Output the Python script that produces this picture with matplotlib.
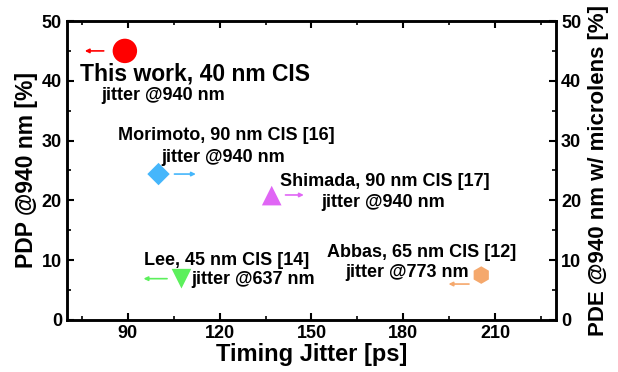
import numpy as np
import matplotlib
matplotlib.use('Agg')
import matplotlib.pyplot as plt
from matplotlib.ticker import MultipleLocator

plt.rcParams['font.family'] = ['Liberation Sans', 'DejaVu Sans']
plt.rcParams['font.weight'] = 'bold'

# jitter [ps], PDP [%]
names = ['This work', 'Morimoto', 'Shimada', 'Lee', 'Abbas']
jitter = [89, 100, 137, 107.5, 205.5]
pdp = [45, 24.4, 20.8, 6.9, 7.5]
markers = ['o', 'D', '^', 'v', 'h']
colors = ['#ff0000', '#45b6fb', '#e066f5', '#5cf05c', '#f5a86c']
sizes = [310, 130, 200, 200, 160]

# arrows: start x, end x, y
arrow_x0 = [83, 104.3, 140.6, 103.7, 202.4]
arrow_x1 = [75, 113.1, 148.4, 94.2, 193.9]
arrow_y = [45, 24.4, 20.9, 6.9, 6.0]

fig, ax = plt.subplots(figsize=(6.18, 3.72), dpi=100)
fig.subplots_adjust(left=0.108, right=0.9, bottom=0.14, top=0.9435)

for x, y, m, c, s in zip(jitter, pdp, markers, colors, sizes):
    ax.scatter(x, y, marker=m, s=s, color=c, edgecolors='none', zorder=3)

for x0, x1, y, c in zip(arrow_x0, arrow_x1, arrow_y, colors):
    ax.annotate('', xy=(x1, y), xytext=(x0, y),
                arrowprops=dict(arrowstyle='-|>', color=c, lw=1.2, mutation_scale=6))

fs = 13
ax.text(74.2, 41.1, 'This work, 40 nm CIS', fontsize=16.5, fontweight='bold', ha='left', va='center')
ax.text(101.4, 37.6, 'jitter @940 nm', fontsize=fs, fontweight='bold', ha='center', va='center')
ax.text(122, 30.9, 'Morimoto, 90 nm CIS [16]', fontsize=fs, fontweight='bold', ha='center', va='center')
ax.text(121, 27.2, 'jitter @940 nm', fontsize=fs, fontweight='bold', ha='center', va='center')
ax.text(139.6, 23.1, 'Shimada, 90 nm CIS [17]', fontsize=fs, fontweight='bold', ha='left', va='center')
ax.text(173.3, 19.7, 'jitter @940 nm', fontsize=fs, fontweight='bold', ha='center', va='center')
ax.text(122.3, 10.0, 'Lee, 45 nm CIS [14]', fontsize=fs, fontweight='bold', ha='center', va='center')
ax.text(110.8, 6.7, 'jitter @637 nm', fontsize=fs, fontweight='bold', ha='left', va='center')
ax.text(186, 11.2, 'Abbas, 65 nm CIS [12]', fontsize=fs, fontweight='bold', ha='center', va='center')
ax.text(181.4, 7.9, 'jitter @773 nm', fontsize=fs, fontweight='bold', ha='center', va='center')

ax.set_xlim(70, 230)
ax.set_ylim(0, 50)
ax.xaxis.set_major_locator(MultipleLocator(30))
ax.xaxis.set_minor_locator(MultipleLocator(15))
ax.yaxis.set_major_locator(MultipleLocator(10))
ax.yaxis.set_minor_locator(MultipleLocator(5))
ax.set_xlabel('Timing Jitter [ps]', fontsize=17, fontweight='bold', labelpad=1)
ax.set_ylabel('PDP @940 nm [%]', fontsize=16.5, fontweight='bold', labelpad=3)

ax2 = ax.twinx()
ax2.set_ylim(0, 50)
ax2.yaxis.set_major_locator(MultipleLocator(10))
ax2.yaxis.set_minor_locator(MultipleLocator(5))
ax2.set_ylabel('PDE @940 nm w/ microlens [%]', fontsize=16, fontweight='bold', labelpad=5)

for a in (ax, ax2):
    for sp in a.spines.values():
        sp.set_linewidth(1.8)
    a.tick_params(which='major', direction='in', length=5, width=1.5, labelsize=13)
    a.tick_params(which='minor', direction='in', length=3, width=1.2)
    for lab in a.get_xticklabels() + a.get_yticklabels():
        lab.set_fontweight('bold')
ax.tick_params(which='both', top=True)

plt.savefig('out.png', dpi=100)
